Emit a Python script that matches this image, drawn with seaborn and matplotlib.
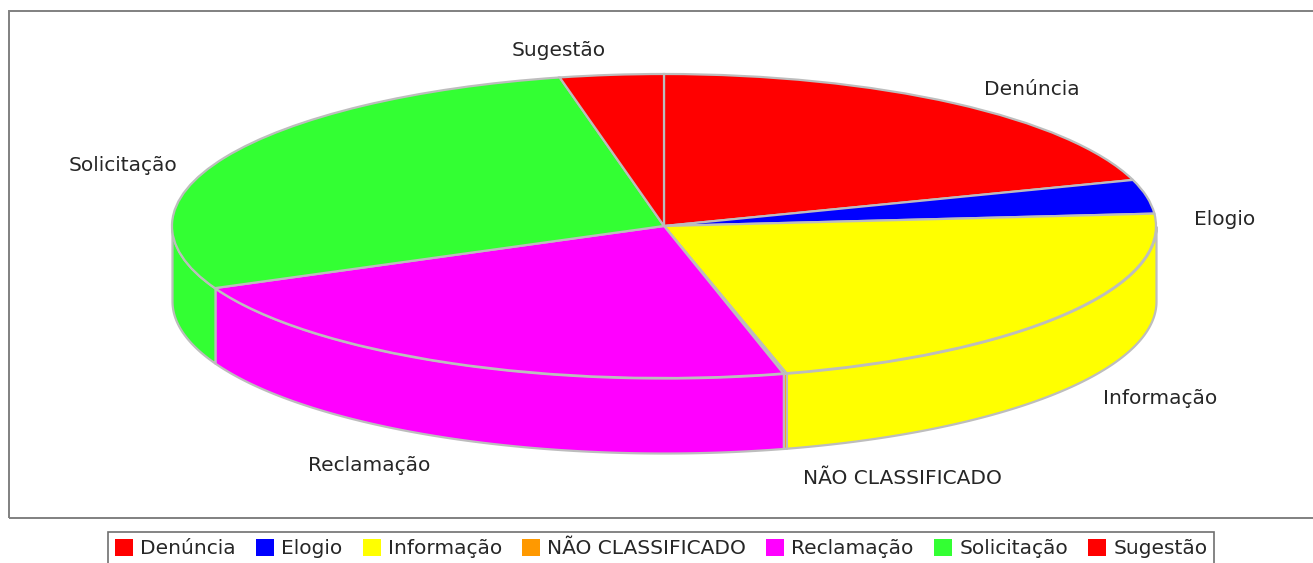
import numpy as np
import matplotlib
matplotlib.use('Agg')
import matplotlib.pyplot as plt
from matplotlib.patches import Patch, Rectangle
import seaborn as sns

categories = ['Denúncia', 'Elogio', 'Informação', 'NÃO CLASSIFICADO', 'Reclamação', 'Solicitação', 'Sugestão']
values = [20.1, 3.6, 22.3, 0.1, 22.2, 28.3, 3.4]
colors = ['#ff0000', '#0000ff', '#ffff00', '#ff9900', '#ff00ff', '#33ff33', '#ff0000']
# label centres in pixels of the reference
label_px = [(1032, 89), (1225, 219), (1160, 398), (902, 478), (369, 465), (123, 165), (559, 50)]

W, H = 1313, 563
CX, CY, RX, RY = 664, 226, 492, 152
DEPTH = 75 / RY
EDGE = '#bdbdbd'
TEXT = '#262626'
FONT_SIZE = 14.5

sns.set_theme(style='white')
plt.rcParams['font.family'] = ['DejaVu Sans']
palette = sns.color_palette(colors)

fig = plt.figure(figsize=(W / 100, H / 100), dpi=100, facecolor='white')
ax = fig.add_axes([0, 0, 1, 1])

wedges, _ = ax.pie(values, colors=palette, startangle=90, counterclock=False, radius=1,
                   wedgeprops={'edgecolor': EDGE, 'linewidth': 1.6, 'zorder': 3}, normalize=True)
ax.set_aspect('auto')
# pie units -> pixel layout of the reference
ax.set_xlim(-CX / RX, (W - CX) / RX)
ax.set_ylim((CY - H) / RY, CY / RY)
ax.axis('off')

# side wall of the pie, front half only
ends = 90 - 360 * np.cumsum(values) / np.sum(values)
starts = np.r_[90, ends[:-1]]
for a0, a1, col in zip(starts, ends, palette):
    t = np.radians(np.linspace(a0, a1, 200))
    t = t[np.sin(t) <= 0]
    if len(t) < 2:
        continue
    ax.fill_between(np.cos(t), np.sin(t), np.sin(t) - DEPTH, color=col, edgecolor=EDGE,
                    linewidth=1.6, zorder=2)

for name, (px, py) in zip(categories, label_px):
    ax.text((px - CX) / RX, (CY - py) / RY, name, ha='center', va='center', fontsize=FONT_SIZE,
            color=TEXT, zorder=5)

# plot frame, runs off the right side of the image
fig.add_artist(Rectangle((8.5 / W, 1 - 518 / H), 1320 / W, 507 / H, transform=fig.transFigure,
                         facecolor='none', edgecolor='#808080', linewidth=1.4))

handles = [Patch(facecolor=c, edgecolor='none') for c in palette]
leg = fig.legend(handles, categories, ncol=7, loc='upper left', bbox_to_anchor=(108 / W, 1 - 532 / H),
                 frameon=True, fancybox=False, edgecolor='#707070', fontsize=FONT_SIZE,
                 handlelength=0.9, handleheight=0.9, handletextpad=0.35, columnspacing=1.0,
                 borderpad=0.35, borderaxespad=0, labelcolor=TEXT, framealpha=1)
leg.get_frame().set_linewidth(1.2)

fig.savefig('out.png', dpi=100)
